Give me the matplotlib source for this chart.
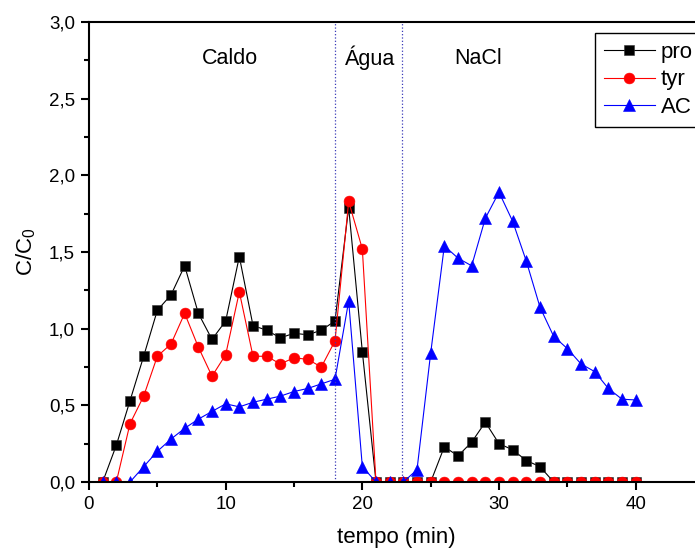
import matplotlib
matplotlib.use('Agg')
import matplotlib.pyplot as plt
from matplotlib.ticker import MultipleLocator, FuncFormatter

plt.rcParams['font.family'] = ['Liberation Sans', 'DejaVu Sans']
plt.rcParams['mathtext.default'] = 'regular'

# dados
tempo = list(range(1, 41))
pro = [0, 0.24, 0.53, 0.82, 1.12, 1.22, 1.41, 1.10, 0.93, 1.05,
       1.47, 1.02, 0.99, 0.94, 0.97, 0.96, 0.99, 1.05, 1.79, 0.85,
       0, 0, 0, 0, 0, 0.23, 0.17, 0.26, 0.39, 0.25,
       0.21, 0.14, 0.10, 0, 0, 0, 0, 0, 0, 0]
tyr = [0, 0, 0.38, 0.56, 0.82, 0.90, 1.10, 0.88, 0.69, 0.83,
       1.24, 0.82, 0.82, 0.77, 0.81, 0.80, 0.75, 0.92, 1.83, 1.52,
       0, 0, 0, 0, 0, 0, 0, 0, 0, 0,
       0, 0, 0, 0, 0, 0, 0, 0, 0, 0]
ac = [0, 0, 0, 0.10, 0.20, 0.28, 0.35, 0.41, 0.46, 0.51,
      0.49, 0.52, 0.54, 0.56, 0.59, 0.61, 0.64, 0.67, 1.18, 0.10,
      0, 0, 0, 0.08, 0.84, 1.54, 1.46, 1.41, 1.72, 1.89,
      1.70, 1.44, 1.14, 0.95, 0.87, 0.77, 0.72, 0.61, 0.54, 0.535]

divisoes = [18, 22.9]
regioes = ['Caldo', 'Água', 'NaCl']
regioes_x = [10.3, 20.55, 28.45]

fig = plt.figure(figsize=(6.95, 5.52), dpi=100)
ax = fig.add_axes([89 / 695, 70 / 552, 615 / 695, 460 / 552])

ax.plot(tempo, pro, color='black', lw=0.8, marker='s', ms=7.2,
        mec='#333333', mew=0.4, label='pro')
ax.plot(tempo, tyr, color='red', lw=0.8, marker='o', ms=7.8,
        mec='red', mew=0.4, label='tyr')
ax.plot(tempo, ac, color='blue', lw=0.8, marker='^', ms=8.6,
        mec='blue', mew=0.4, label='AC')

for d in divisoes:
    ax.axvline(d, color='#3a3ab8', ls=':', lw=0.9)

for nome, xr in zip(regioes, regioes_x):
    ax.text(xr, 2.765, nome, ha='center', va='center', fontsize=15.5)

ax.set_xlim(0, 45)
ax.set_ylim(0, 3.0)
ax.xaxis.set_major_locator(MultipleLocator(10))
ax.xaxis.set_minor_locator(MultipleLocator(5))
ax.yaxis.set_major_locator(MultipleLocator(0.5))
ax.yaxis.set_minor_locator(MultipleLocator(0.25))
ax.yaxis.set_major_formatter(FuncFormatter(lambda v, p: ('%.1f' % v).replace('.', ',')))

for s in ax.spines.values():
    s.set_linewidth(1.5)
ax.tick_params(which='major', direction='out', length=6, width=1.5, labelsize=13.5, pad=4)
ax.tick_params(which='minor', direction='out', length=3.5, width=1.5)

ax.set_xlabel('tempo (min)', fontsize=16, labelpad=10)
ax.set_ylabel('C/C$_0$', fontsize=16, labelpad=8)

leg = ax.legend(loc='upper left', bbox_to_anchor=(595 / 695, 1 - 33 / 552),
                bbox_transform=fig.transFigure, borderaxespad=0,
                fontsize=16, handlelength=2.3, handletextpad=0.25,
                labelspacing=0.29, borderpad=0.4, fancybox=False,
                framealpha=1, edgecolor='black')
leg.get_frame().set_linewidth(1.0)

fig.savefig('out.png', dpi=100)
